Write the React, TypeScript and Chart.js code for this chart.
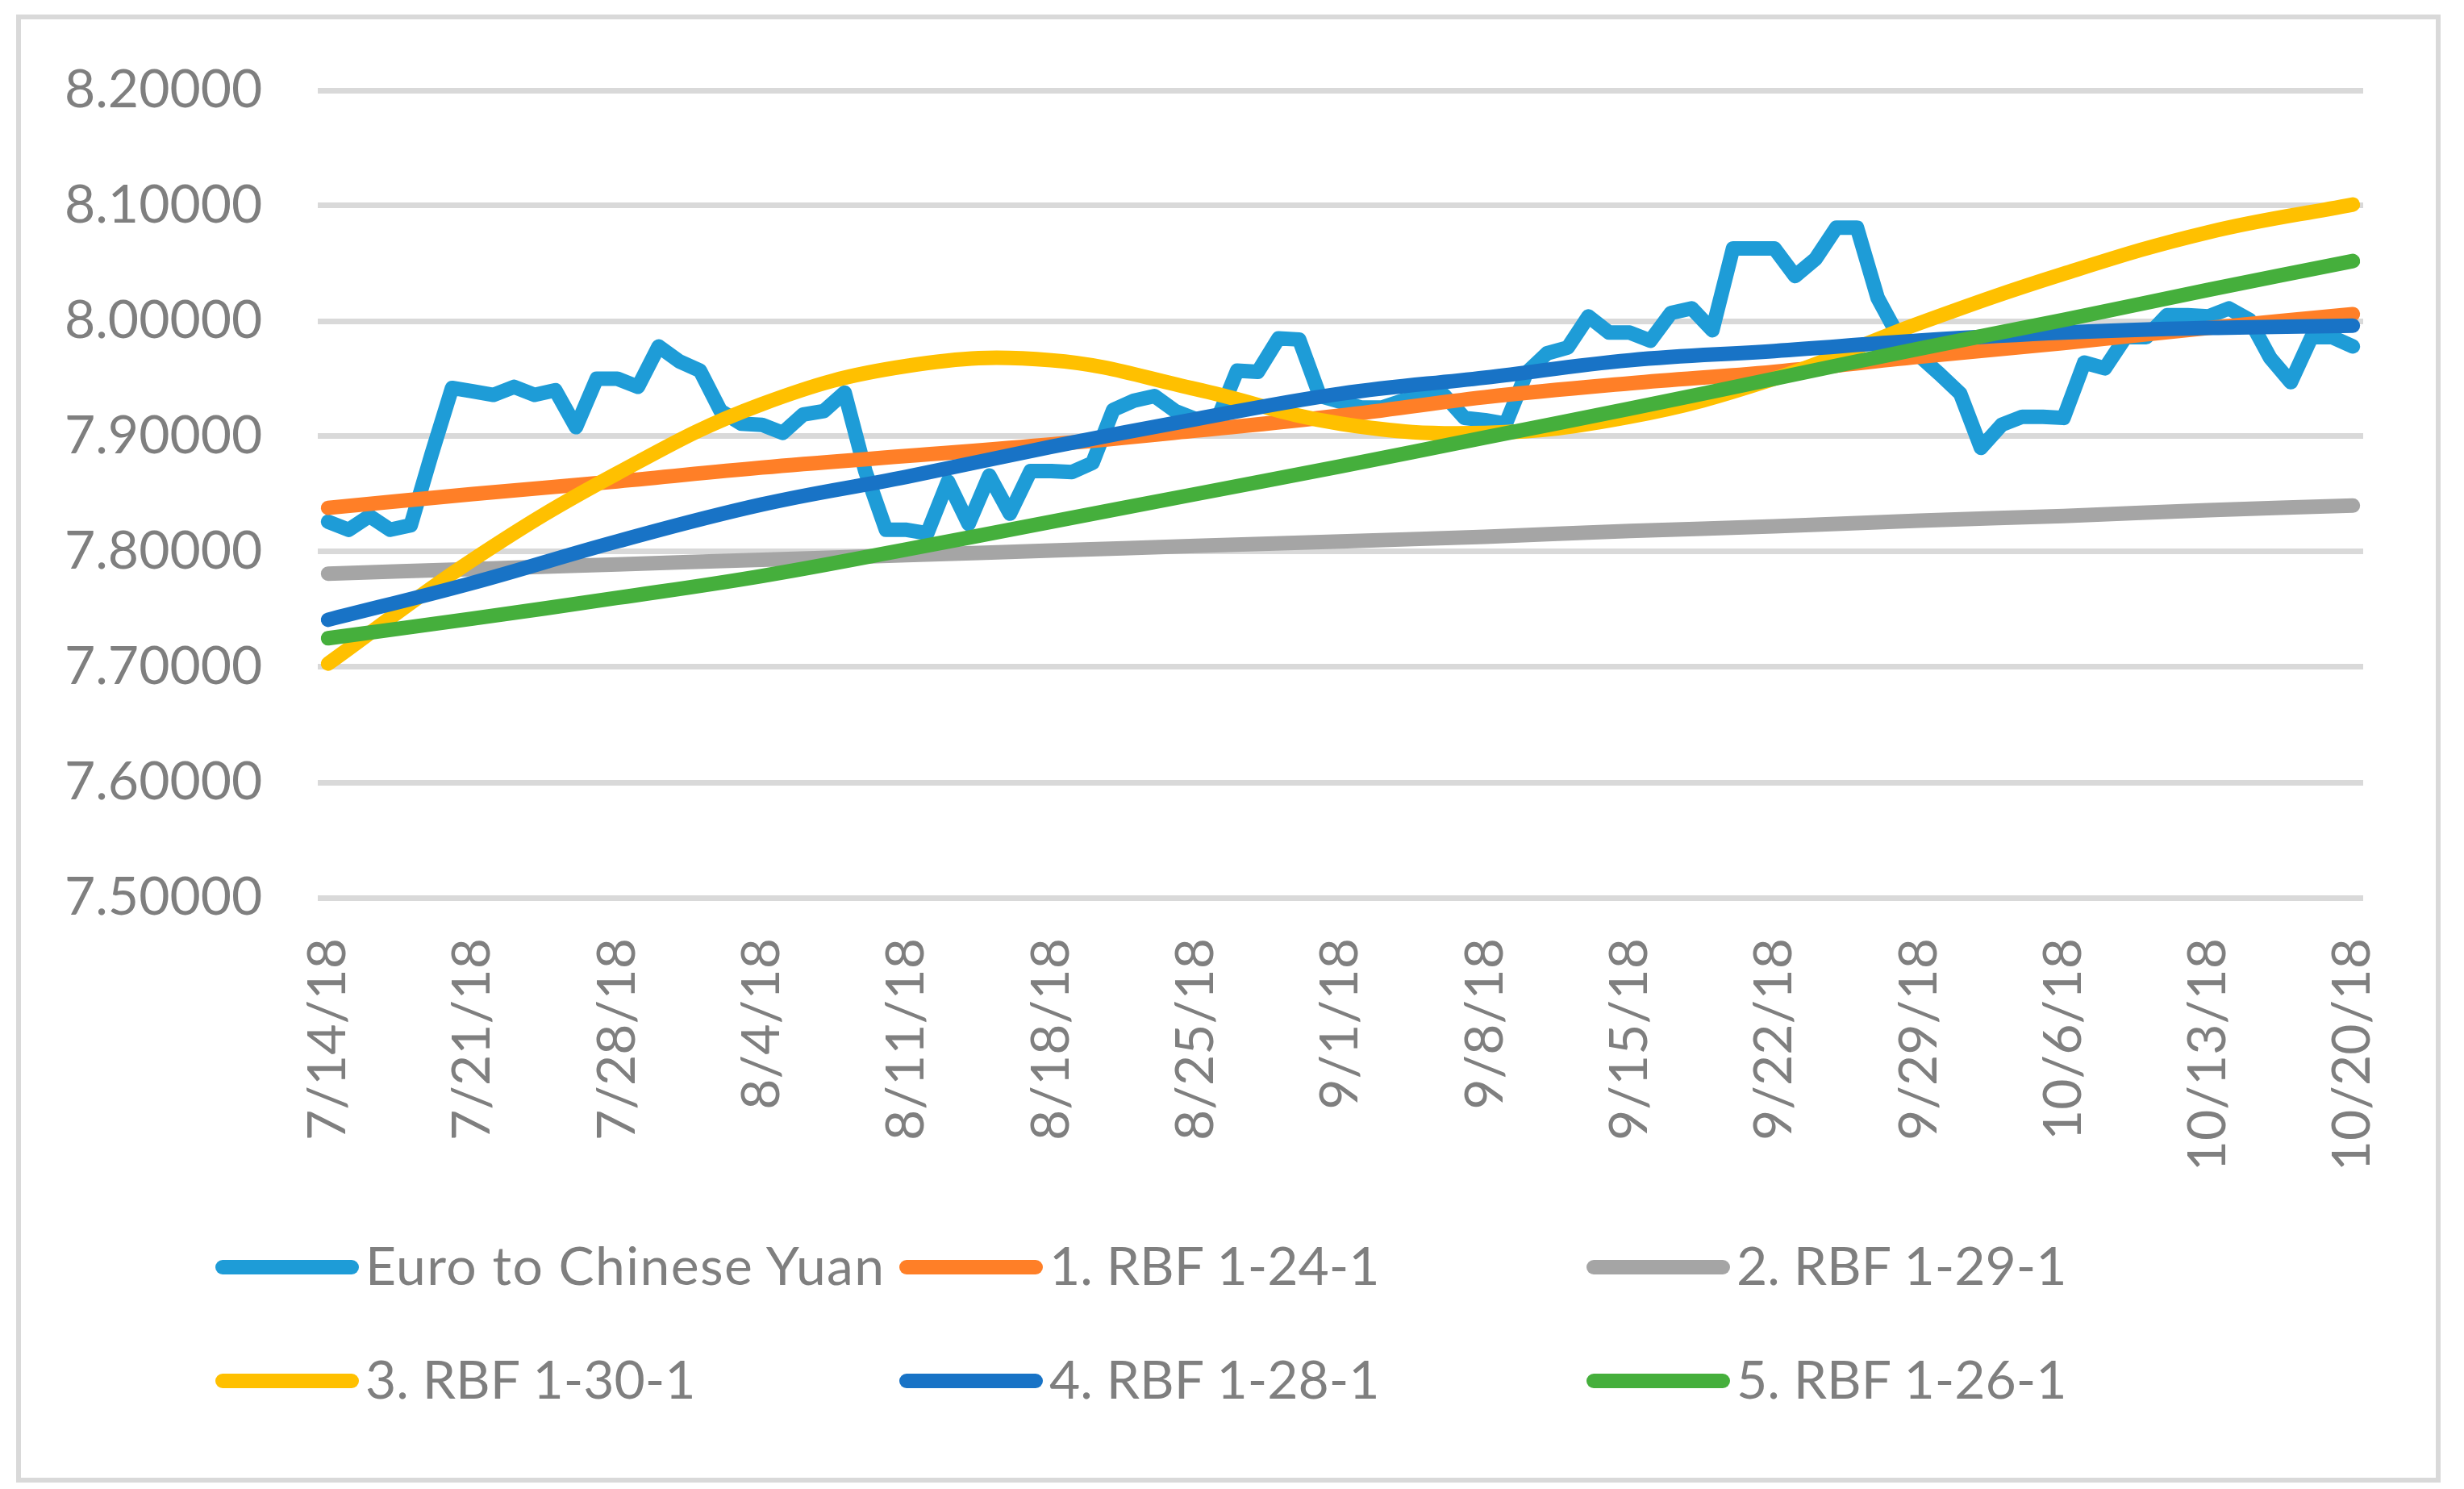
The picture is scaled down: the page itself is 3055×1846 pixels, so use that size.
import { useEffect, useRef } from "react"
import { Chart, ChartConfiguration, registerables } from "chart.js"

Chart.register(...registerables)

// daily dates 7/14/18 .. 10/20/18
const labels: string[] = []
for (let d = 0; d < 99; d++) {
  const dt = new Date(2018, 6, 14 + d)
  labels.push(`${dt.getMonth() + 1}/${dt.getDate()}/18`)
}

const euroYuan = [
  7.826, 7.819, 7.831, 7.819, 7.823, 7.884, 7.942, 7.939, 7.936, 7.943,
  7.936, 7.940, 7.908, 7.950, 7.950, 7.943, 7.978, 7.965, 7.957, 7.922,
  7.911, 7.910, 7.903, 7.919, 7.922, 7.938, 7.870, 7.819, 7.819, 7.816,
  7.861, 7.824, 7.866, 7.833, 7.870, 7.870, 7.869, 7.877, 7.923, 7.931,
  7.935, 7.922, 7.915, 7.913, 7.957, 7.956, 7.985, 7.984, 7.935, 7.930,
  7.925, 7.925, 7.931, 7.935, 7.936, 7.916, 7.914, 7.911, 7.955, 7.972,
  7.977, 8.004, 7.990, 7.990, 7.983, 8.007, 8.011, 7.992, 8.063, 8.063,
  8.063, 8.039, 8.054, 8.081, 8.081, 8.020, 7.987, 7.970, 7.954, 7.937,
  7.890, 7.910, 7.917, 7.917, 7.916, 7.964, 7.959, 7.986, 7.986, 8.005,
  8.005, 8.004, 8.011, 8.001, 7.968, 7.947, 7.986, 7.986, 7.978,
]

// fitted curves, read once a week
const fitDays = [0, 7, 14, 21, 28, 35, 42, 49, 56, 63, 70, 77, 84, 91, 98]
const rbf24 = [7.838, 7.850, 7.861, 7.873, 7.883, 7.893, 7.905, 7.918, 7.934, 7.946, 7.956, 7.969, 7.981, 7.994, 8.006]
const rbf29 = [7.781, 7.785, 7.789, 7.793, 7.797, 7.801, 7.805, 7.809, 7.813, 7.818, 7.822, 7.827, 7.831, 7.836, 7.840]
const rbf30 = [7.703, 7.793, 7.868, 7.928, 7.961, 7.966, 7.941, 7.911, 7.903, 7.917, 7.950, 7.998, 8.041, 8.077, 8.101]
const rbf28 = [7.741, 7.773, 7.809, 7.841, 7.865, 7.891, 7.915, 7.937, 7.951, 7.966, 7.974, 7.983, 7.990, 7.994, 7.996]
const rbf26 = [7.725, 7.742, 7.760, 7.779, 7.802, 7.826, 7.850, 7.874, 7.899, 7.924, 7.950, 7.976, 8.001, 8.027, 8.052]

const yTicks = [7.5, 7.6, 7.7, 7.8, 7.9, 8.0, 8.1, 8.2]

const TEXT = "#7f7f7f"
const FONT = "Lato"

const series = [
  { name: "Euro to Chinese Yuan", color: "#1e9cd7", values: euroYuan, daily: true },
  { name: "1. RBF 1-24-1", color: "#ff7f27", values: rbf24, daily: false },
  { name: "2. RBF 1-29-1", color: "#a5a5a5", values: rbf29, daily: false },
  { name: "3. RBF 1-30-1", color: "#ffc000", values: rbf30, daily: false },
  { name: "4. RBF 1-28-1", color: "#1873c6", values: rbf28, daily: false },
  { name: "5. RBF 1-26-1", color: "#45af3c", values: rbf26, daily: false },
]

// frame in page pixels
const FRAME_X = 20
const FRAME_Y = 18
const BORDER = 6
const CANVAS_W = 2994
const CANVAS_H = 1460

// legend: 3 columns, 2 rows
const legendCols = [267, 1115, 1967]
const legendRows = [1571, 1712]

export default function App() {
  const chartRef = useRef<HTMLCanvasElement>(null)

  useEffect(() => {
    if (!chartRef.current) return
    const ctx = chartRef.current.getContext("2d")
    if (!ctx) return

    const datasets = series.map((s, i) => ({
      label: s.name,
      data: s.daily
        ? s.values
        : s.values.map((v, k) => ({ x: labels[fitDays[k]], y: v })),
      borderColor: s.color,
      backgroundColor: s.color,
      borderWidth: 18,
      borderCapStyle: "round" as const,
      borderJoinStyle: "round" as const,
      pointRadius: 0,
      tension: s.daily ? 0 : 0.4,
      fill: false,
      order: series.length - 1 - i,
    }))

    const config: ChartConfiguration = {
      type: "line",
      data: { labels, datasets: datasets as any },
      options: {
        animation: false,
        responsive: false,
        devicePixelRatio: 1,
        layout: { padding: { left: 54, right: 90, top: 88, bottom: 0 } },
        plugins: {
          legend: { display: false },
          tooltip: { enabled: false },
        },
        scales: {
          x: {
            type: "category",
            offset: true,
            grid: {
              display: true,
              drawOnChartArea: false,
              drawTicks: true,
              tickLength: 50,
              color: "rgba(0,0,0,0)",
            },
            border: { display: false },
            ticks: {
              autoSkip: false,
              maxRotation: 90,
              minRotation: 90,
              padding: 0,
              color: TEXT,
              font: { family: FONT, size: 66 },
              callback: (_v, i) => (i % 7 === 0 ? labels[i] : ""),
            },
            afterFit: (s) => {
              s.height = 371
            },
          },
          y: {
            min: yTicks[0],
            max: yTicks[yTicks.length - 1],
            grid: { color: "#d9d9d9", lineWidth: 7, drawTicks: false },
            border: { display: false },
            ticks: {
              stepSize: 0.1,
              padding: 0,
              crossAlign: "far",
              color: TEXT,
              font: { family: FONT, size: 66 },
              callback: (v) => Number(v).toFixed(5),
            },
            afterFit: (s) => {
              s.width = 314
            },
          },
        },
      },
    }

    const chart = new Chart(ctx, config)
    return () => chart.destroy()
  }, [])

  const ox = FRAME_X + BORDER
  const oy = FRAME_Y + BORDER

  return (
    <div
      style={{
        position: "absolute",
        left: FRAME_X,
        top: FRAME_Y,
        width: 3006,
        height: 1820,
        boxSizing: "border-box",
        border: `${BORDER}px solid #d9d9d9`,
        background: "#fff",
      }}
    >
      <canvas
        ref={chartRef}
        width={CANVAS_W}
        height={CANVAS_H}
        style={{ position: "absolute", left: 0, top: 0, width: CANVAS_W, height: CANVAS_H }}
      />
      {series.map((s, i) => {
        const col = legendCols[i % 3]
        const row = legendRows[Math.floor(i / 3)]
        return (
          <div key={s.name}>
            <div
              style={{
                position: "absolute",
                left: col - ox,
                top: row - 9 - oy,
                width: 178,
                height: 18,
                borderRadius: 9,
                background: s.color,
              }}
            />
            <span
              style={{
                position: "absolute",
                left: col + 186 - ox,
                top: row - 36 - oy,
                fontFamily: FONT,
                fontSize: 66,
                lineHeight: "66px",
                color: TEXT,
                whiteSpace: "nowrap",
                letterSpacing: i === 0 ? 1.4 : 0,
              }}
            >
              {s.name}
            </span>
          </div>
        )
      })}
    </div>
  )
}
